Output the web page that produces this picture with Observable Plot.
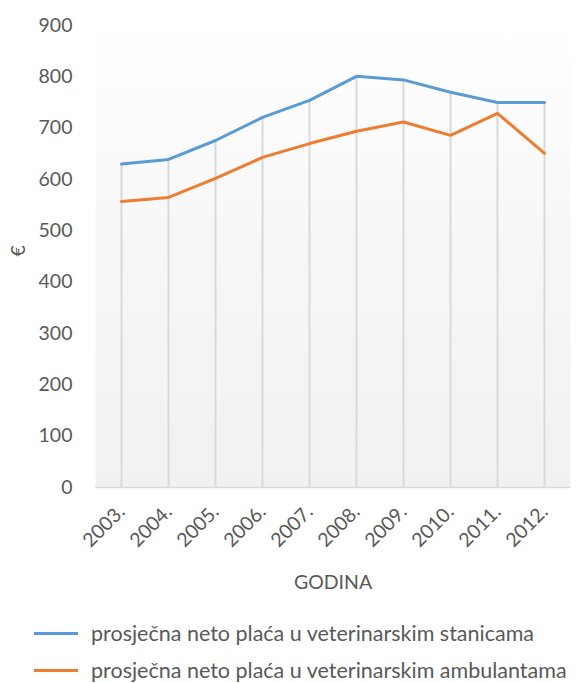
<!DOCTYPE html>
<html><head><meta charset="utf-8">
<script src="https://cdn.jsdelivr.net/npm/d3@7"></script>
<script src="https://cdn.jsdelivr.net/npm/@observablehq/plot@0.6"></script>
<style>
body{margin:0;background:#fff;font-family:Lato,"Open Sans",sans-serif;}
#legend{position:relative;height:83px;color:#595959;font-size:21.5px;}
.row{position:absolute;left:34px;display:flex;align-items:center;height:26px;}
.sw{width:44px;height:3px;margin-right:13px;}
</style></head><body>
<div id="chart"></div>
<div id="legend"></div>
<script>
const years = ["2003.","2004.","2005.","2006.","2007.","2008.","2009.","2010.","2011.","2012."];
const stanice = [630, 639, 676, 721, 754, 801, 794, 770, 750, 750];
const ambulante = [557, 565, 602, 643, 670, 694, 712, 686, 729, 651];
const seriesNames = ["prosječna neto plaća u veterinarskim stanicama","prosječna neto plaća u veterinarskim ambulantama"];
const colors = ["#5b9bd5","#ed7d31"];
const yTicks = [0,100,200,300,400,500,600,700,800,900];

const rows = [];
years.forEach((y,i)=>{rows.push({year:y,value:stanice[i],s:seriesNames[0]});});
years.forEach((y,i)=>{rows.push({year:y,value:ambulante[i],s:seriesNames[1]});});
const drops = years.map((y,i)=>({year:y,top:stanice[i]}));

const plot = Plot.plot({
  width:576, height:600,
  marginLeft:95, marginRight:6, marginTop:25, marginBottom:113,
  style:{fontFamily:"Lato, 'Open Sans', sans-serif", fontSize:"19.5px", color:"#595959", background:"transparent"},
  x:{type:"point", domain:years, padding:0.5},
  y:{domain:[0,900]},
  color:{domain:seriesNames, range:colors},
  marks:[
    Plot.frame({fill:"url(#bgGrad)", stroke:null}),
    Plot.ruleY([0],{stroke:"#d9d9d9", strokeWidth:1.5}),
    Plot.ruleX(drops,{x:"year", y1:0, y2:"top", stroke:"#d9d9d9", strokeWidth:2}),
    Plot.line(rows,{x:"year", y:"value", z:"s", stroke:"s", strokeWidth:3}),
    Plot.axisY({ticks:yTicks, tickSize:0, tickPadding:23, label:null, fill:"#595959"}),
    Plot.text(["€"],{frameAnchor:"left", dx:-77, rotate:-90, fill:"#595959", fontSize:19.5}),
    Plot.axisX({tickSize:0, tickPadding:21, tickRotate:-45, label:"GODINA", labelAnchor:"center", labelOffset:101, fill:"#595959"})
  ]
});
const svg = d3.select(plot);
const defs = svg.insert("defs",":first-child");
const g = defs.append("linearGradient").attr("id","bgGrad").attr("x1",0).attr("y1",0).attr("x2",0).attr("y2",1);
g.append("stop").attr("offset","0%").attr("stop-color","#ffffff");
g.append("stop").attr("offset","45%").attr("stop-color","#f7f7f7");
g.append("stop").attr("offset","100%").attr("stop-color","#f1f1f1");
document.getElementById("chart").appendChild(plot);

const leg = document.getElementById("legend");
seriesNames.forEach((n,i)=>{
  const r = document.createElement("div");
  r.className="row"; r.style.top=(20+i*37)+"px";
  const sw=document.createElement("div"); sw.className="sw"; sw.style.background=colors[i];
  const t=document.createElement("span"); t.textContent=n;
  r.appendChild(sw); r.appendChild(t); leg.appendChild(r);
});
</script></body></html>
